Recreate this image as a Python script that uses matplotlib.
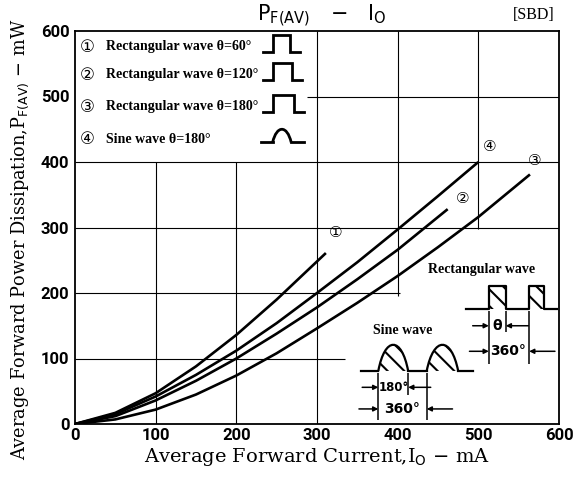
import matplotlib
matplotlib.use('Agg')
import matplotlib.pyplot as plt
from matplotlib.path import Path
from matplotlib.patches import PathPatch, Rectangle

# P_F(AV) vs I_O curves (mA, mW)
i_rect60 = [0, 50, 100, 150, 200, 250, 311]
p_rect60 = [0, 17, 47, 88, 136, 190, 261]
i_rect120 = [0, 50, 100, 150, 200, 250, 300, 350, 400, 462]
p_rect120 = [0, 12, 36, 66, 100, 138, 178, 221, 266, 328]
i_rect180 = [0, 50, 100, 150, 200, 250, 300, 350, 400, 450, 500, 564]
p_rect180 = [0, 7, 22, 45, 74, 108, 146, 185, 226, 270, 316, 381]
i_sine180 = [0, 50, 100, 150, 200, 250, 300, 350, 400, 450, 500]
p_sine180 = [0, 15, 42, 75, 112, 154, 200, 247, 297, 348, 400]

curve_marks = ["①", "②", "③", "④"]
legend_labels = ["Rectangular wave θ=60°", "Rectangular wave θ=120°",
                 "Rectangular wave θ=180°", "Sine wave θ=180°"]
x_ticks = [0, 100, 200, 300, 400, 500, 600]
y_ticks = [0, 100, 200, 300, 400, 500, 600]

SERIF = ["Liberation Serif", "DejaVu Sans"]
LW = 1.9


def hump_path(x0, w, base, h):
    """Half-sine-ish hump as a bezier path."""
    verts = [(x0, base), (x0 + 0.22 * w, base + 1.33 * h),
             (x0 + 0.78 * w, base + 1.33 * h), (x0 + w, base)]
    codes = [Path.MOVETO, Path.CURVE4, Path.CURVE4, Path.CURVE4]
    return Path(verts, codes)


def dim_arrows(ax, y, left, right, span=20):
    """Arrows pointing inward onto two extension lines (->| |<- style)."""
    kw = dict(arrowstyle='-|>', lw=1.1, color='k', mutation_scale=7,
              shrinkA=0, shrinkB=0)
    ax.annotate('', xy=(left, y), xytext=(left - span, y), arrowprops=kw)
    ax.annotate('', xy=(right, y), xytext=(right + span + 8, y), arrowprops=kw)


fig = plt.figure(figsize=(5.84, 4.79), dpi=100)
ax = fig.add_axes([75 / 584, 1 - 424 / 479, (559 - 75) / 584, (424 - 31) / 479])
ax.set_xlim(0, 600)
ax.set_ylim(0, 600)

# partial grid, like the printed sheet (blank under legend and insets)
gk = dict(color='k', lw=0.8, zorder=1)
ax.hlines(500, 288, 600, **gk)
ax.hlines([300, 400], 0, 600, **gk)
ax.hlines(200, 0, 403, **gk)
ax.hlines(100, 0, 335, **gk)
ax.vlines([100, 200], 0, 400, **gk)
ax.vlines(300, 0, 600, **gk)
ax.vlines(400, 195, 600, **gk)
ax.vlines(500, 298, 600, **gk)

# curves
ax.plot(i_rect60, p_rect60, color='k', lw=LW, solid_capstyle='butt')
ax.plot(i_rect120, p_rect120, color='k', lw=LW, solid_capstyle='butt')
ax.plot(i_rect180, p_rect180, color='k', lw=LW, solid_capstyle='butt')
ax.plot(i_sine180, p_sine180, color='k', lw=LW, solid_capstyle='butt')

mk = dict(fontsize=11, family=["DejaVu Sans"], ha='center', va='center')
ax.text(323, 292, curve_marks[0], **mk)
ax.text(480, 345, curve_marks[1], **mk)
ax.text(570, 403, curve_marks[2], **mk)
ax.text(514, 423, curve_marks[3], **mk)

# legend block
leg_y = [576, 533, 484, 435]
for k in range(4):
    ax.text(15, leg_y[k], curve_marks[k], fontsize=12, family=["DejaVu Sans"],
            ha='center', va='center')
    ax.text(38, leg_y[k], legend_labels[k], fontsize=10, family=SERIF,
            weight='bold', ha='left', va='center')
pulse_w = [21, 24, 26]
for k in range(3):
    b = leg_y[k] - 8
    xs = [233, 245, 245, 245 + pulse_w[k], 245 + pulse_w[k], 258 + pulse_w[k]]
    ys = [b, b, b + 26, b + 26, b, b]
    ax.plot(xs, ys, color='k', lw=2, solid_joinstyle='miter')
b = leg_y[3] - 5
ax.plot([231, 245], [b, b], color='k', lw=2)
ax.plot([268, 284], [b, b], color='k', lw=2)
ax.add_patch(PathPatch(hump_path(245, 23, b, 20), fc='none', ec='k', lw=2))

# rectangular wave inset
plt.rcParams['hatch.linewidth'] = 1.5
ax.text(504, 236, "Rectangular wave", fontsize=10, family=SERIF,
        weight='bold', ha='center', va='center')
rb, rt = 176, 211
ax.plot([485, 513, 513, 534, 534, 563, 563, 581, 581, 597],
        [rb, rb, rt, rt, rb, rb, rt, rt, rb, rb], color='k', lw=1.6)
for x0, x1 in [(513, 534), (563, 581)]:
    ax.add_patch(Rectangle((x0, rb), x1 - x0, rt - rb, fc='none', ec='k',
                           lw=0, hatch='\\\\'))
ax.vlines([513, 563], 92, 172, color='k', lw=1.1)
ax.vlines(534, 140, 172, color='k', lw=1.1)
dim_arrows(ax, 150, 513, 534)
dim_arrows(ax, 111, 513, 563, span=24)
ax.text(523.5, 150, "θ", fontsize=10, weight='bold', ha='center', va='center')
ax.text(537, 111, "360°", fontsize=10, weight='bold', ha='center', va='center')

# sine wave inset
ax.text(406, 143, "Sine wave", fontsize=10, family=SERIF,
        weight='bold', ha='center', va='center')
sb = 81
ax.plot([354, 376], [sb, sb], color='k', lw=1.6)
ax.plot([413, 436], [sb, sb], color='k', lw=1.6)
ax.plot([475, 494], [sb, sb], color='k', lw=1.6)
for x0, x1 in [(376, 413), (436, 475)]:
    ax.add_patch(PathPatch(hump_path(x0, x1 - x0, sb, 40), fc='none',
                           ec='k', lw=1.6))
    ax.add_patch(PathPatch(hump_path(x0, x1 - x0, sb, 40), fc='none',
                           ec='k', lw=0, hatch='\\\\'))
ax.vlines([376, 436], 6, 78, color='k', lw=1.1)
ax.vlines(413, 44, 78, color='k', lw=1.1)
dim_arrows(ax, 56, 376, 413)
dim_arrows(ax, 23, 376, 436, span=24)
ax.text(395, 56, "180°", fontsize=8.5, weight='bold', ha='center', va='center')
ax.text(406, 23, "360°", fontsize=10, weight='bold', ha='center', va='center')

# axes styling
for s in ax.spines.values():
    s.set_linewidth(1.3)
ax.set_xticks(x_ticks)
ax.set_yticks(y_ticks)
ax.tick_params(length=0, labelsize=12)
ax.tick_params(axis='x', pad=3)
ax.tick_params(axis='y', pad=4)
for lab in ax.get_xticklabels() + ax.get_yticklabels():
    lab.set_family("Roboto")
    lab.set_weight("bold")

ax.set_xlabel("Average Forward Current,I$_{\\mathrm{O}}$ $-$ mA",
              family="DejaVu Serif", fontsize=14, labelpad=2)
fig.text(20 / 584, 0.5,
         "Average Forward Power Dissipation,P$_{\\mathrm{F(AV)}}$ $-$ mW",
         family="DejaVu Serif", fontsize=12.8, rotation=90,
         ha='center', va='center')

fig.text(322 / 584, 1 - 16 / 479,
         "P$_{\\mathrm{F(AV)}}$   $-$   I$_{\\mathrm{O}}$",
         fontsize=15, ha='center', va='center')
fig.text(534 / 584, 1 - 15 / 479, "[SBD]", family=SERIF, fontsize=11.5,
         ha='center', va='center')

fig.savefig("out.png", dpi=100)
plt.close(fig)
